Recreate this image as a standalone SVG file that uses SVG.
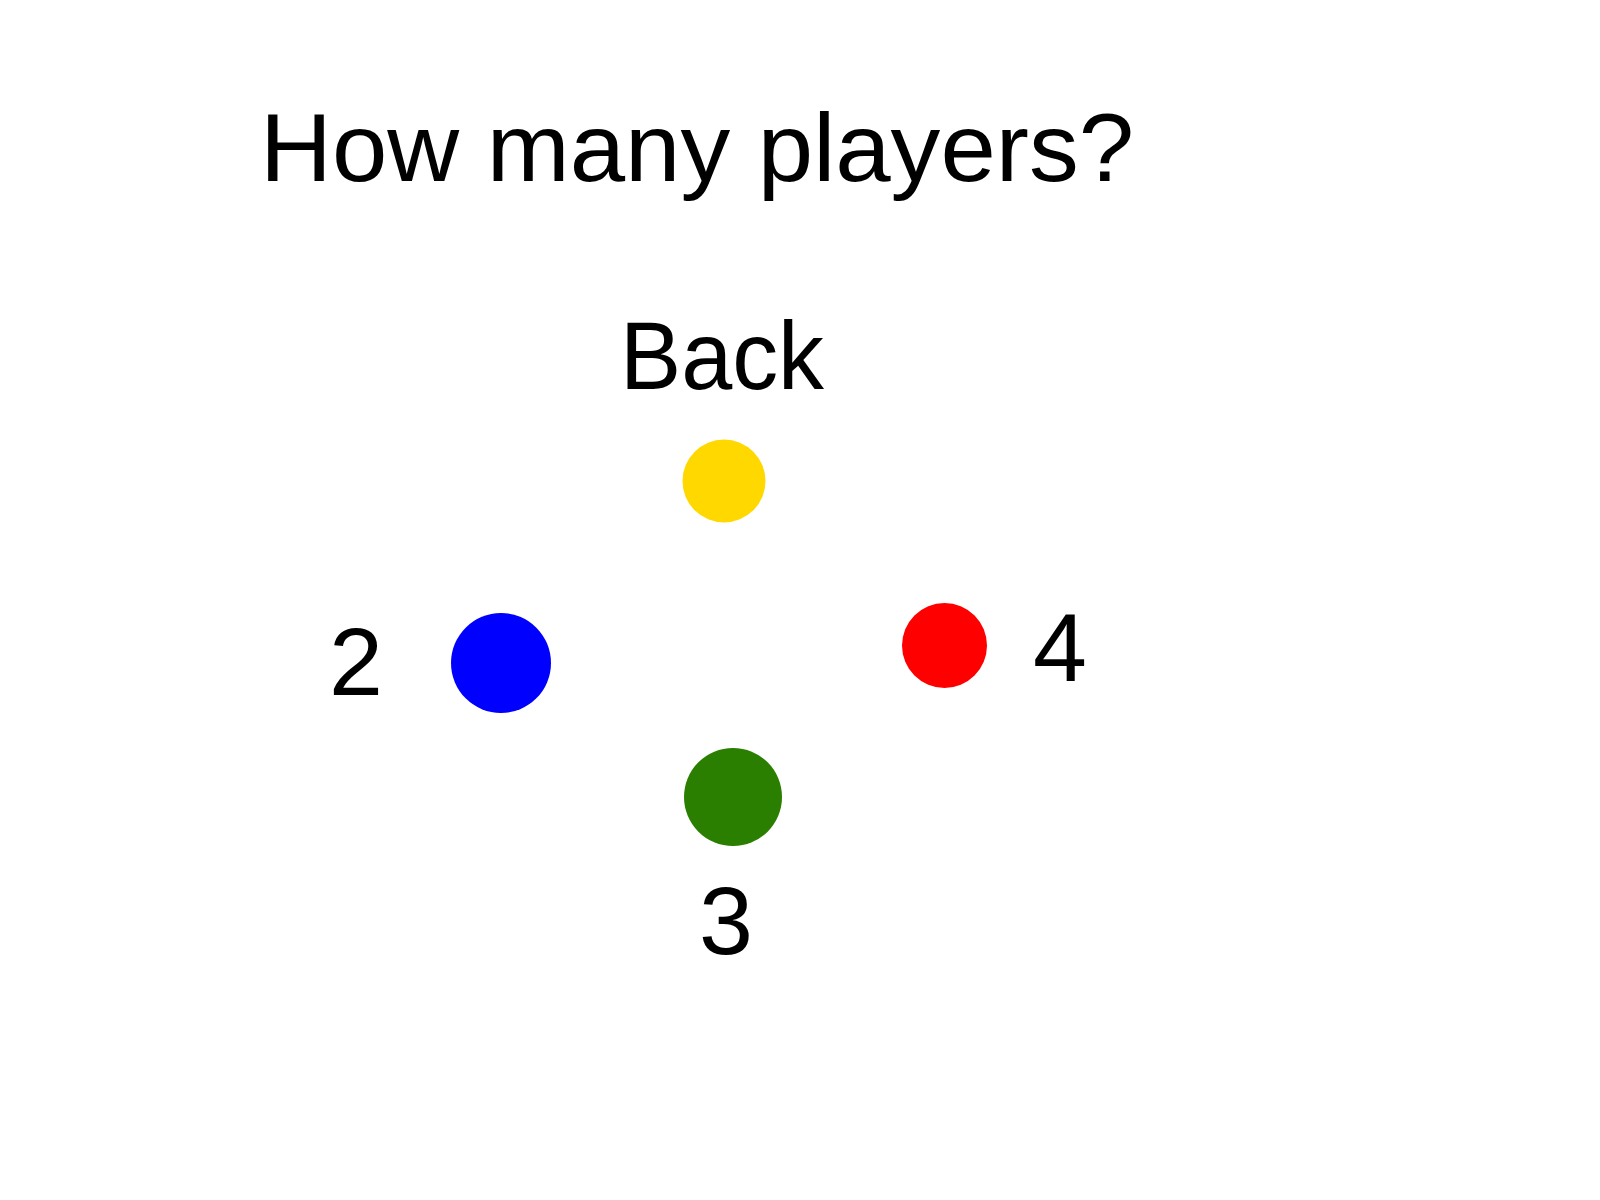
<svg xmlns="http://www.w3.org/2000/svg" width="1600" height="1200" viewBox="0 0 1600 1200">
<style>
text { font-family: "Liberation Sans", Arial, sans-serif; fill: #000; }
.t { font-size: 97px; }
.d { font-size: 97px; }
</style>
<rect width="1600" height="1200" fill="#fff"/>
<g id="title"><text class="t" x="260" y="181" textLength="874" lengthAdjust="spacingAndGlyphs">How many players?</text></g>
<g id="back-label"><text class="t" x="620" y="389" font-size="94" textLength="204" lengthAdjust="spacingAndGlyphs">Back</text></g>
<g id="player-back"><circle cx="724" cy="481" r="41.5" fill="#FFD800"/></g>
<g id="player-2"><circle cx="501" cy="663" r="50" fill="#0000FF"/><text class="d" x="329" y="695">2</text></g>
<g id="player-4"><circle cx="944.5" cy="645.5" r="42.5" fill="#FF0000"/><text class="d" x="1033" y="681">4</text></g>
<g id="player-3"><circle cx="733" cy="797" r="49" fill="#2A7F00"/><text class="d" x="699" y="954">3</text></g>
<g id="connectors"/>
</svg>
